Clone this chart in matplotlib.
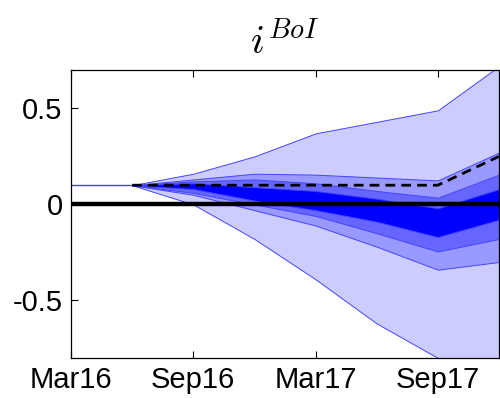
import matplotlib
matplotlib.use('Agg')
from matplotlib import pyplot as plt

# quarterly dates, Mar16 .. Dec17
quarters = ['Mar16', 'Jun16', 'Sep16', 'Dec16', 'Mar17', 'Jun17', 'Sep17', 'Dec17']
tick_labels = ['Mar16', 'Sep16', 'Mar17', 'Sep17']

history = [0.1, 0.1]  # Mar16, Jun16

# fan bands from Jun16 onwards (upper, lower), outer to inner
outer_hi = [0.1, 0.16, 0.25, 0.37, 0.43, 0.49, 0.72]
outer_lo = [0.1, 0.0, -0.18, -0.39, -0.62, -0.80, -0.84]
mid_hi = [0.1, 0.13, 0.16, 0.155, 0.14, 0.125, 0.27]
mid_lo = [0.1, 0.05, -0.03, -0.11, -0.22, -0.34, -0.30]
dark_hi = [0.1, 0.12, 0.13, 0.11, 0.07, 0.035, 0.155]
dark_lo = [0.1, 0.06, 0.0, -0.06, -0.15, -0.245, -0.18]
inner_hi = [0.1, 0.11, 0.09, 0.07, 0.03, -0.02, 0.08]
inner_lo = [0.1, 0.08, 0.02, -0.03, -0.09, -0.17, -0.08]
dashed = [0.1, 0.1, 0.1, 0.1, 0.1, 0.1, 0.25]

plt.rcParams['font.family'] = ['Liberation Sans', 'DejaVu Sans']
plt.rcParams['mathtext.fontset'] = 'cm'

fig = plt.figure(figsize=(5.0, 3.98), dpi=100)
ax = fig.add_axes([0.142, 0.1005, 0.856, 0.7236])

x_hist = list(range(2))
x_fan = list(range(1, len(quarters)))

bands = [(outer_hi, outer_lo, '#CCCCFF'),
         (mid_hi, mid_lo, '#9999FF'),
         (dark_hi, dark_lo, '#6666FF'),
         (inner_hi, inner_lo, '#0000FF')]
for hi, lo, col in bands:
    ax.fill_between(x_fan, lo, hi, facecolor=col, edgecolor='#4444FF',
                    linewidth=0.7, zorder=2)

ax.plot(x_hist, history, color='#4444FF', lw=1.0, zorder=3)
ax.axhline(0, color='black', lw=3.2, zorder=4)
ax.plot(x_fan, dashed, color='black', lw=2.0, ls=(0, (3.5, 2.2)), zorder=5)

ax.set_xlim(0, len(quarters) - 1)
ax.set_ylim(-0.8, 0.7)
ax.set_xticks([0, 2, 4, 6])
ax.set_xticklabels(tick_labels)
ax.set_yticks([-0.5, 0, 0.5])
ax.set_yticklabels(['-0.5', '0', '0.5'])
ax.tick_params(axis='both', which='major', labelsize=21, direction='in',
               length=5, width=0.8, top=True, right=True, pad=6)
for s in ax.spines.values():
    s.set_linewidth(0.9)
    s.set_zorder(6)

ax.set_title('$i^{BoI}$', fontsize=29, pad=12)

fig.savefig('out.png', dpi=100)
